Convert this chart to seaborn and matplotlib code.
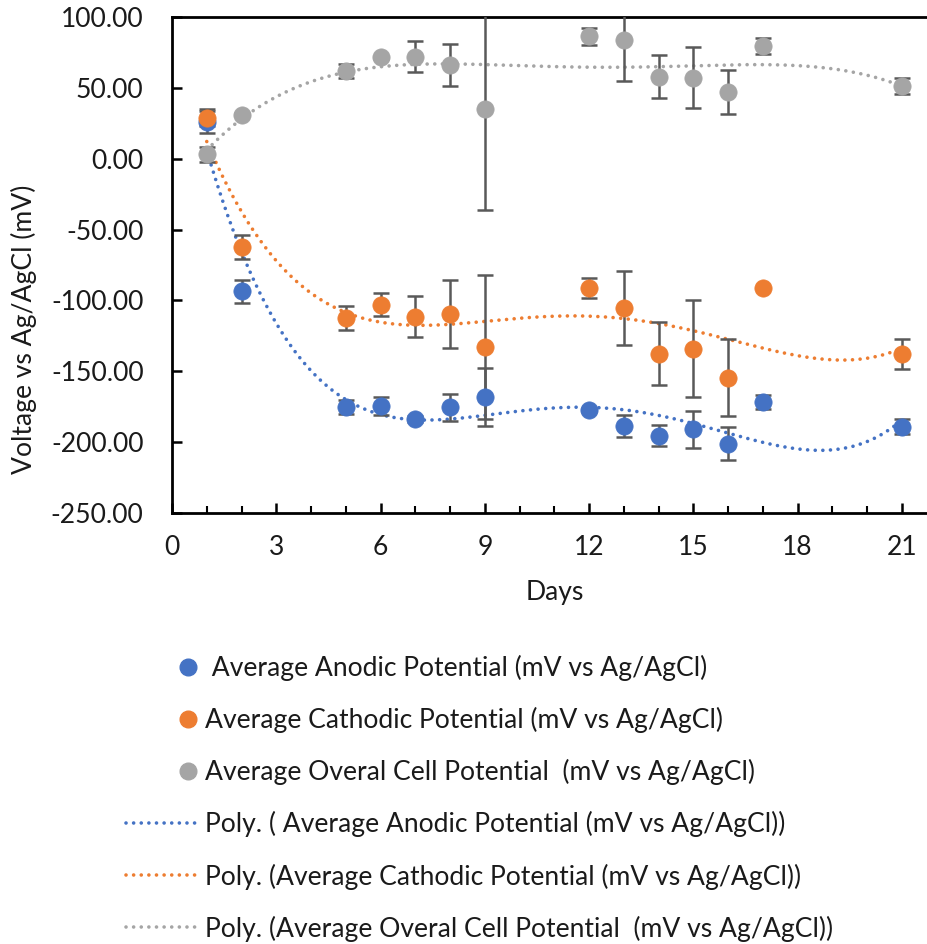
import numpy as np
import pandas as pd
import matplotlib
matplotlib.use("Agg")
import matplotlib.pyplot as plt
import seaborn as sns
from matplotlib.lines import Line2D
from matplotlib.legend_handler import HandlerLine2D
from matplotlib.ticker import MultipleLocator, FuncFormatter

days = [1, 2, 5, 6, 7, 8, 9, 12, 13, 14, 15, 16, 17, 21]
anodic = [26, -93.5, -175, -174.5, -183.5, -175.5, -168, -177.5, -188.5, -195.5, -191, -201, -171.5, -189]
anodic_err = [8, 8, 5, 6.5, 2, 9.5, 20.5, 1.5, 8, 7.5, 13, 11.5, 5, 5.5]
cathodic = [29, -62, -112.5, -103, -111.5, -109.5, -133, -91, -105.5, -137.5, -134, -154.5, -91.5, -138]
cathodic_err = [6, 8.5, 8.5, 8, 14.5, 24, 51, 7, 26, 22, 34, 27, 0, 10.5]
overall = [3, 31, 62, 71.5, 72, 66, 35, 86.5, 83.5, 58, 57, 47, 79.5, 51.5]
overall_err = [5.5, 1, 5, 1, 11, 15, 71.5, 6, 29, 15, 21.5, 15.5, 5.5, 5.5]

labels = [" Average Anodic Potential (mV vs Ag/AgCl)",
          "Average Cathodic Potential (mV vs Ag/AgCl)",
          "Average Overal Cell Potential  (mV vs Ag/AgCl)"]
poly_labels = ["Poly. ( Average Anodic Potential (mV vs Ag/AgCl))",
               "Poly. (Average Cathodic Potential (mV vs Ag/AgCl))",
               "Poly. (Average Overal Cell Potential  (mV vs Ag/AgCl))"]
colors = ["#4472C4", "#ED7D31", "#A5A5A5"]
poly_order = 4

sns.set_theme(style="white")
plt.rcParams['font.family'] = ['Lato', 'DejaVu Sans']
plt.rcParams['axes.unicode_minus'] = False

FS = 19.1
fig = plt.figure(figsize=(9.27, 9.44), dpi=100)
W, H = 927, 944
x0, x1, ytop, ybot = 172, 172 + 22 * 34.76, 17, 513
ax = fig.add_axes([x0 / W, 1 - ybot / H, (x1 - x0) / W, (ybot - ytop) / H])

series = [(anodic, anodic_err), (cathodic, cathodic_err), (overall, overall_err)]
xs = np.linspace(1, 21, 400)
for (vals, errs), c, lab, plab in zip(series, colors, labels, poly_labels):
    coef = np.polyfit(days, vals, poly_order)
    trend = pd.DataFrame({"x": xs, "y": np.polyval(coef, xs)})
    sns.lineplot(data=trend, x="x", y="y", ax=ax, color=c, lw=2.6,
                 linestyle=(0, (0.01, 2.1)), dash_capstyle="round", zorder=2)
    ax.errorbar(days, vals, yerr=errs, fmt="none", ecolor="#595959",
                elinewidth=1.8, capsize=6, capthick=1.8, zorder=3)
    df = pd.DataFrame({"x": days, "y": vals})
    sns.scatterplot(data=df, x="x", y="y", ax=ax, color=c, s=155,
                    edgecolor=c, linewidth=0.5, zorder=4)

ax.set_xlim(0, 22)
ax.set_ylim(-250, 100)
ax.xaxis.set_major_locator(MultipleLocator(3))
ax.xaxis.set_minor_locator(MultipleLocator(1))
ax.yaxis.set_major_locator(MultipleLocator(50))
ax.yaxis.set_major_formatter(FuncFormatter(lambda v, p: f"{v:.2f}"))
ax.xaxis.set_major_formatter(FuncFormatter(lambda v, p: f"{int(v)}"))
ax.tick_params(axis="both", which="major", direction="in", length=7, width=1.8,
               color="black", labelsize=FS, labelcolor="#1a1a1a")
ax.tick_params(axis="y", pad=20.5, left=True)
ax.tick_params(axis="x", pad=16, bottom=True)
ax.tick_params(axis="x", which="minor", direction="in", length=5, width=1.5,
               color="black", bottom=True)
for s in ["left", "bottom", "top"]:
    ax.spines[s].set_color("black")
    ax.spines[s].set_linewidth(2)
ax.spines["right"].set_visible(False)
ax.set_xlabel("Days", fontsize=FS, color="#1a1a1a", labelpad=14)
ax.set_ylabel("Voltage vs Ag/AgCl (mV)", fontsize=FS, color="#1a1a1a")
ax.yaxis.set_label_coords(-0.176, 0.37)
ax.grid(False)


class MarkerRight(HandlerLine2D):
    def get_xdata(self, legend, xdescent, ydescent, width, height, fontsize):
        xdata = [-xdescent + 0.72 * width, -xdescent + width]
        return xdata, [-xdescent + 0.86 * width]


handles = [Line2D([], [], ls="none", marker="o", ms=12, color=c) for c in colors]
handles += [Line2D([], [], color=c, lw=2.6, linestyle=(0, (0.01, 2.1)),
                   dash_capstyle="round") for c in colors]
hmap = {h: MarkerRight() for h in handles[:3]}
fontpx = FS * 100 / 72
fig.legend(handles, labels + poly_labels, handler_map=hmap, loc="upper left",
           bbox_to_anchor=(126 / W, 1 - 655 / H), frameon=False, fontsize=FS,
           handlelength=72 / fontpx, handletextpad=0.25, labelspacing=0.98,
           borderaxespad=0, borderpad=0, labelcolor="#1a1a1a")

fig.savefig("out.png", dpi=100)
